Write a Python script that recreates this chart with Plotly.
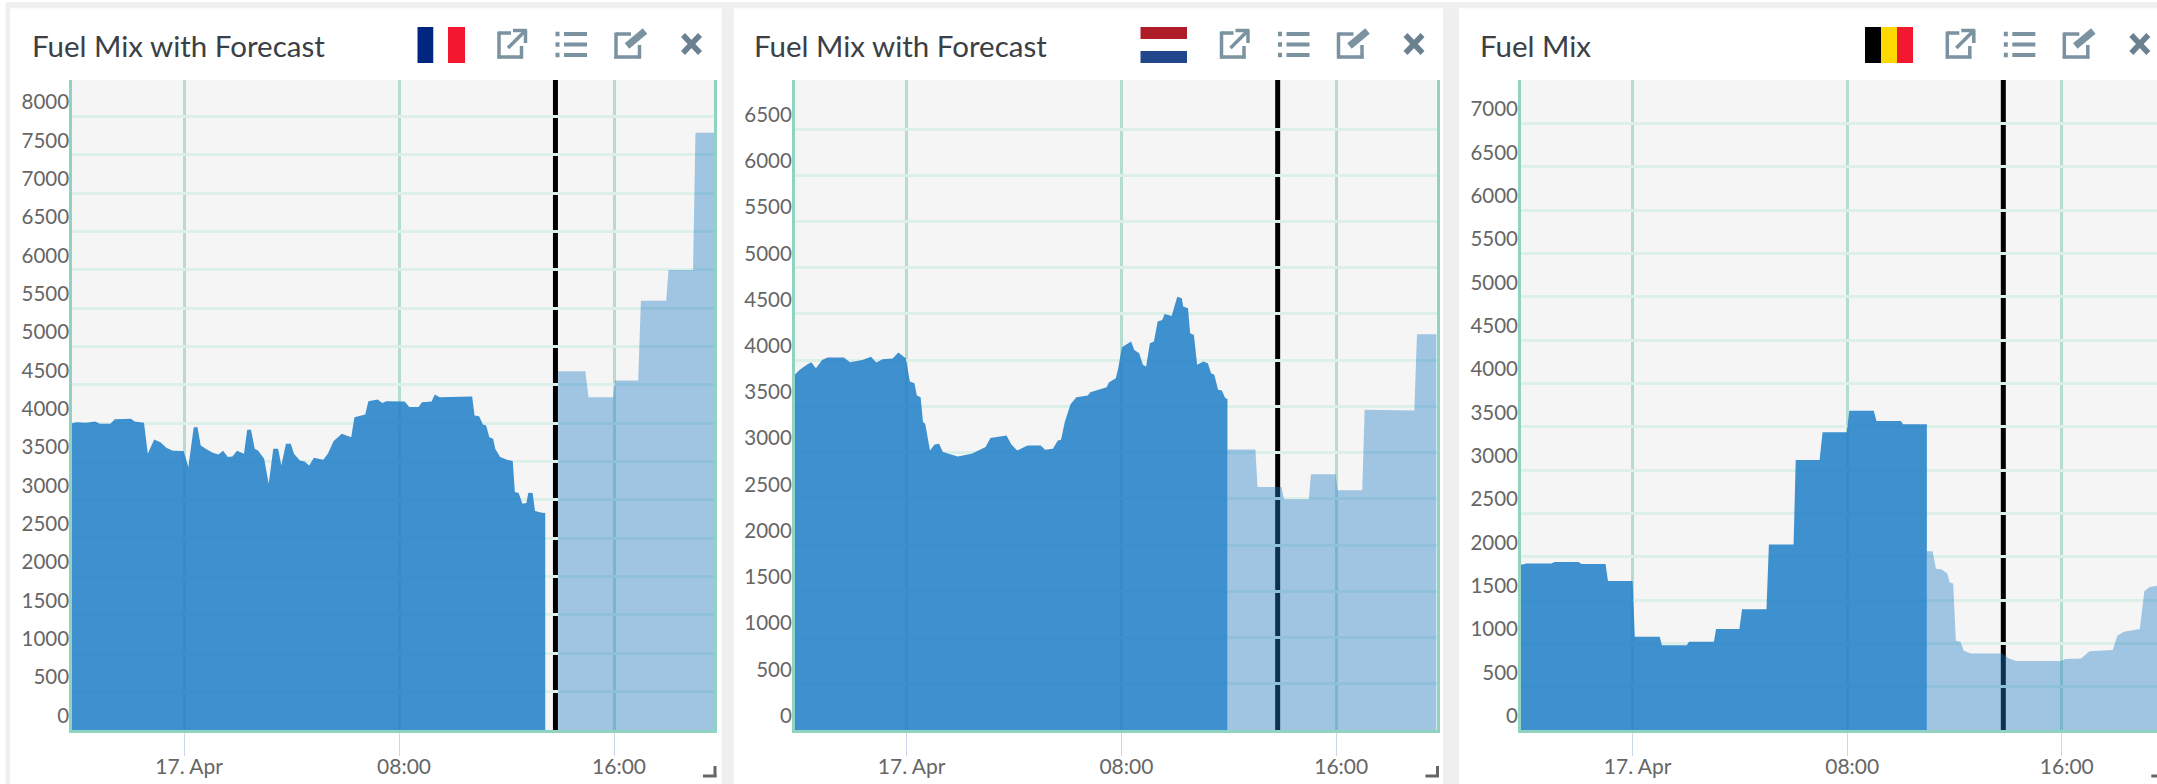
import plotly.graph_objects as go

W, H = 2157, 784

# Hours relative to midnight on 17 April, and generation in MW
fr_actual_h = [-4.17,-4.00,-3.65,-3.31,-3.13,-2.74,-2.58,-1.97,-1.84,-1.49,-1.35,-1.11,-.88,-.66,-.42,-.02,.16,.36,.50,.62,.85,1.07,1.28,1.45,1.63,1.80,1.97,2.23,2.35,2.49,2.63,2.75,2.98,3.15,3.32,3.50,3.62,3.79,3.97,4.09,4.31,4.48,4.66,4.83,5.18,5.35,5.56,5.87,6.22,6.34,6.74,6.86,7.20,7.38,7.52,8.21,8.38,8.73,8.85,9.21,9.33,9.51,10.72,10.81,10.98,11.12,11.24,11.36,11.50,11.58,11.76,12.02,12.23,12.31,12.45,12.59,12.74,12.81,12.97,13.06,13.32,13.44]
fr_actual_v = [4001,4015,4006,4023,3993,3993,4054,4058,4023,4006,3602,3789,3754,3680,3641,3637,3429,3949,3949,3711,3659,3615,3594,3641,3559,3567,3641,3602,3915,3915,3667,3646,3537,3212,3667,3667,3450,3732,3732,3602,3515,3502,3450,3550,3524,3602,3767,3863,3819,4080,4114,4288,4310,4266,4288,4284,4214,4214,4275,4284,4375,4340,4349,4101,4093,3984,3971,3819,3797,3667,3559,3524,3507,3103,3090,2951,2960,3094,3090,2856,2834,2830]
fr_fcst_h = [13.92,14.93,15.05,15.97,16.03,16.90,17.00,17.94,18.03,18.94,19.03,19.72]
fr_fcst_v = [4678,4678,4340,4340,4557,4557,5599,5599,5999,5999,7790,7790]

nl_actual_h = [-4.17,-3.98,-3.72,-3.55,-3.38,-3.15,-2.94,-2.34,-2.11,-1.65,-1.33,-1.13,-.90,-.52,-.31,-.03,.12,.29,.38,.52,.61,.69,.87,1.04,1.21,1.35,1.90,2.42,2.94,3.12,3.72,3.90,4.12,4.50,4.99,5.16,5.45,5.63,5.75,5.89,6.10,6.32,6.75,6.84,7.45,7.53,7.79,7.88,8.02,8.10,8.36,8.48,8.66,8.80,8.92,9.06,9.21,9.35,9.52,9.61,9.87,10.08,10.25,10.30,10.48,10.56,10.70,10.82,11.05,11.22,11.34,11.46,11.60,11.74,11.86,11.95]
nl_actual_v = [3841,3895,3949,3978,3913,4003,4028,4028,3978,4003,4036,3974,4010,4018,4082,4021,3769,3751,3618,3600,3330,3312,3024,3089,3096,3006,2959,2988,3060,3157,3186,3089,3024,3078,3078,3031,3042,3132,3139,3330,3521,3600,3618,3654,3708,3758,3805,3913,4140,4154,4201,4111,4075,3949,3931,4183,4201,4417,4435,4500,4478,4687,4669,4579,4561,4291,4273,3949,3985,3967,3859,3841,3679,3672,3593,3578]
nl_fcst_h = [11.95,12.99,13.07,13.96,14.06,14.98,15.06,15.98,16.05,16.97,17.06,17.97,18.04,18.91,19.01,19.74]
nl_fcst_v = [3035,3035,2628,2628,2495,2495,2765,2765,2592,2592,3463,3463,3456,3456,4280,4280]

be_actual_h = [-4.17,-3.95,-3.03,-2.91,-2.02,-1.90,-1.01,-.92,0,.08,1.01,1.09,2.02,2.10,3.03,3.11,3.98,4.08,4.99,5.08,6.00,6.08,6.97,7.08,7.98,8.08,8.99,9.09,10.00,10.08,10.97]
be_actual_v = [1908,1920,1920,1939,1939,1916,1916,1720,1720,1075,1075,979,979,1018,1018,1164,1164,1394,1394,2139,2139,3114,3114,3437,3437,3683,3683,3564,3564,3529,3529]
be_fcst_h = [10.97,11.18,11.31,11.51,11.73,11.82,11.95,12.05,12.22,12.35,12.61,13.78,14.03,14.29,15.97,16.13,16.72,17.03,17.90,18.07,18.32,18.91,19.08,19.28,19.55,19.80]
be_fcst_v = [2062,2062,1862,1855,1805,1701,1690,1029,1018,914,883,883,826,795,795,818,826,910,922,1087,1133,1164,1605,1651,1663,1663]

titles = ["Fuel Mix with Forecast", "Fuel Mix with Forecast", "Fuel Mix"]
x_tick_hours = [0, 8, 16]
x_tick_labels = ["17. Apr", "08:00", "16:00"]
now_hour = 13.82
y_tops = [8477, 7030, 7500]
y_tick_limits = [8000, 6500, 7000]
x_ranges = [(-4.17, 19.72), (-4.17, 19.74), (-4.17, 19.55)]

PLOT_TOP, PLOT_BOTTOM = 80, 730
plot_spans = [(72, 714), (794.7, 1436.6), (1520.8, 2157)]
card_spans = [(10, 721.6), (733.7, 1443), (1459, 2157)]
panel_shift = [0, 722.5, 1448.3]

ACTUAL = "rgba(31,126,199,0.85)"
FORECAST = "rgba(31,126,199,0.40)"
GRID_V = "#b4dcd0"
GRID_H = "#dcefe9"
AXIS = "#8fd3c0"
ICON = "#7b92a0"
FONT = "Lato, 'Open Sans', sans-serif"


def fx(x):
    return x / W


def fy(y):
    return 1 - y / H


def rect(x0, y0, x1, y1, color):
    return dict(type="rect", xref="paper", yref="paper", layer="below",
                x0=fx(x0), x1=fx(x1), y0=fy(y0), y1=fy(y1),
                fillcolor=color, line_width=0)


def seg(x0, y0, x1, y1, color=ICON, width=3.5):
    return dict(type="line", xref="paper", yref="paper", layer="above",
                x0=fx(x0), x1=fx(x1), y0=fy(y0), y1=fy(y1),
                line=dict(color=color, width=width))


def icon_set(dx):
    # Window toolbar: pop-out, list, edit and close glyphs
    out = [
        seg(dx+511, 33, dx+499, 33), seg(dx+499, 31.5, dx+499, 58.5), seg(dx+497.5, 57, dx+523, 57),
        seg(dx+521.5, 58.5, dx+521.5, 46), seg(dx+508, 48, dx+525, 31), seg(dx+513, 30.5, dx+526.5, 30.5),
        seg(dx+525.5, 29.5, dx+525.5, 43),
    ]
    for y in (34, 44.5, 55):
        out.append(seg(dx+555.5, y, dx+559.5, y, width=4.5))
        out.append(seg(dx+564, y, dx+587, y, width=4))
    out += [
        seg(dx+631, 34, dx+616, 34), seg(dx+616, 32.5, dx+616, 58.5), seg(dx+614.5, 57, dx+641, 57),
        seg(dx+639.5, 58.5, dx+639.5, 45), seg(dx+627, 46, dx+645, 31, width=7),
        seg(dx+683, 35, dx+700, 53, color="#6a8190", width=5.5),
        seg(dx+700, 35, dx+683, 53, color="#6a8190", width=5.5),
        seg(dx+715, 766, dx+715, 777, color="#666666", width=3),
        seg(dx+703, 776, dx+716.5, 776, color="#666666", width=3),
    ]
    return out


series = [
    (fr_actual_h, fr_actual_v, fr_fcst_h, fr_fcst_v),
    (nl_actual_h, nl_actual_v, nl_fcst_h, nl_fcst_v),
    (be_actual_h, be_actual_v, be_fcst_h, be_fcst_v),
]

fig = go.Figure()
shapes = [rect(0, 0, W, 2, "#ffffff"), rect(0, 0, 5.5, H, "#ffffff")]
annotations = []
layout_axes = {}

for i in range(3):
    suffix = "" if i == 0 else str(i + 1)
    xname, yname = "x" + suffix, "y" + suffix
    left, right = plot_spans[i]

    shapes.append(rect(card_spans[i][0], 8.3, card_spans[i][1], H, "#ffffff"))
    shapes.append(rect(left, PLOT_TOP, right, PLOT_BOTTOM, "#f5f5f5"))

    ah, av, fh, fv = series[i]
    # Forecast goes first so the measured area sits on top of it
    fig.add_trace(go.Scatter(x=fh, y=fv, xaxis=xname, yaxis=yname, mode="lines",
                             line=dict(width=0), fill="tozeroy", fillcolor=FORECAST,
                             hoverinfo="skip", showlegend=False))
    fig.add_trace(go.Scatter(x=ah, y=av, xaxis=xname, yaxis=yname, mode="lines",
                             line=dict(width=0), fill="tozeroy", fillcolor=ACTUAL,
                             hoverinfo="skip", showlegend=False))

    # Current-time marker, beneath the grid and the areas
    shapes.append(dict(type="line", xref=xname, yref=yname + " domain", layer="below",
                       x0=now_hour, x1=now_hour, y0=0, y1=1,
                       line=dict(color="#000000", width=5)))

    layout_axes["xaxis" + suffix] = dict(
        domain=[fx(left), fx(right)], range=list(x_ranges[i]), anchor=yname,
        tickmode="array", tickvals=x_tick_hours, ticktext=x_tick_labels,
        showgrid=True, gridcolor=GRID_V, gridwidth=3, zeroline=False,
        showline=True, linecolor=AXIS, linewidth=3,
        ticks="outside", ticklen=23, tickwidth=1, tickcolor="#ccd6eb",
        ticklabelshift=5, ticklabelstandoff=-7,
        tickfont=dict(family=FONT, size=21, color="#666666"),
    )
    layout_axes["yaxis" + suffix] = dict(
        domain=[fy(PLOT_BOTTOM), fy(PLOT_TOP)], range=[0, y_tops[i]], anchor=xname,
        tickmode="array", tickvals=list(range(0, y_tick_limits[i] + 1, 500)),
        showgrid=True, gridcolor=GRID_H, gridwidth=2.5, zeroline=False,
        showline=True, linecolor=AXIS, linewidth=2.5, mirror=(i < 2),
        ticks="", ticklabelposition="outside top", ticklabelstandoff=-4,
        tickfont=dict(family=FONT, size=20.5, color="#666666"),
    )

    dx = panel_shift[i]
    annotations.append(dict(xref="paper", yref="paper", x=fx(29.5 + dx), y=fy(45),
                            xanchor="left", yanchor="middle", showarrow=False,
                            text=titles[i],
                            font=dict(family=FONT, size=29.5, color="#3a4046")))
    shapes += icon_set(dx)

# National flags in the panel headers
shapes += [
    rect(417.5, 27, 433.5, 63, "#00267f"), rect(433.5, 27, 448, 63, "#ffffff"), rect(448, 27, 465, 63, "#f31830"),
    rect(1140.5, 27, 1187, 39, "#ae1c28"), rect(1140.5, 39, 1187, 51, "#ffffff"), rect(1140.5, 51, 1187, 63, "#21468b"),
    rect(1865, 27, 1881, 63, "#000000"), rect(1881, 27, 1897, 63, "#ffd800"), rect(1897, 27, 1913, 63, "#f31830"),
]

fig.update_layout(
    width=W, height=H, autosize=False,
    margin=dict(l=0, r=0, t=0, b=0),
    paper_bgcolor="#efefef", plot_bgcolor="rgba(0,0,0,0)",
    shapes=shapes, annotations=annotations, showlegend=False,
    **layout_axes,
)

fig.write_html("out.html", config=dict(displayModeBar=False))
